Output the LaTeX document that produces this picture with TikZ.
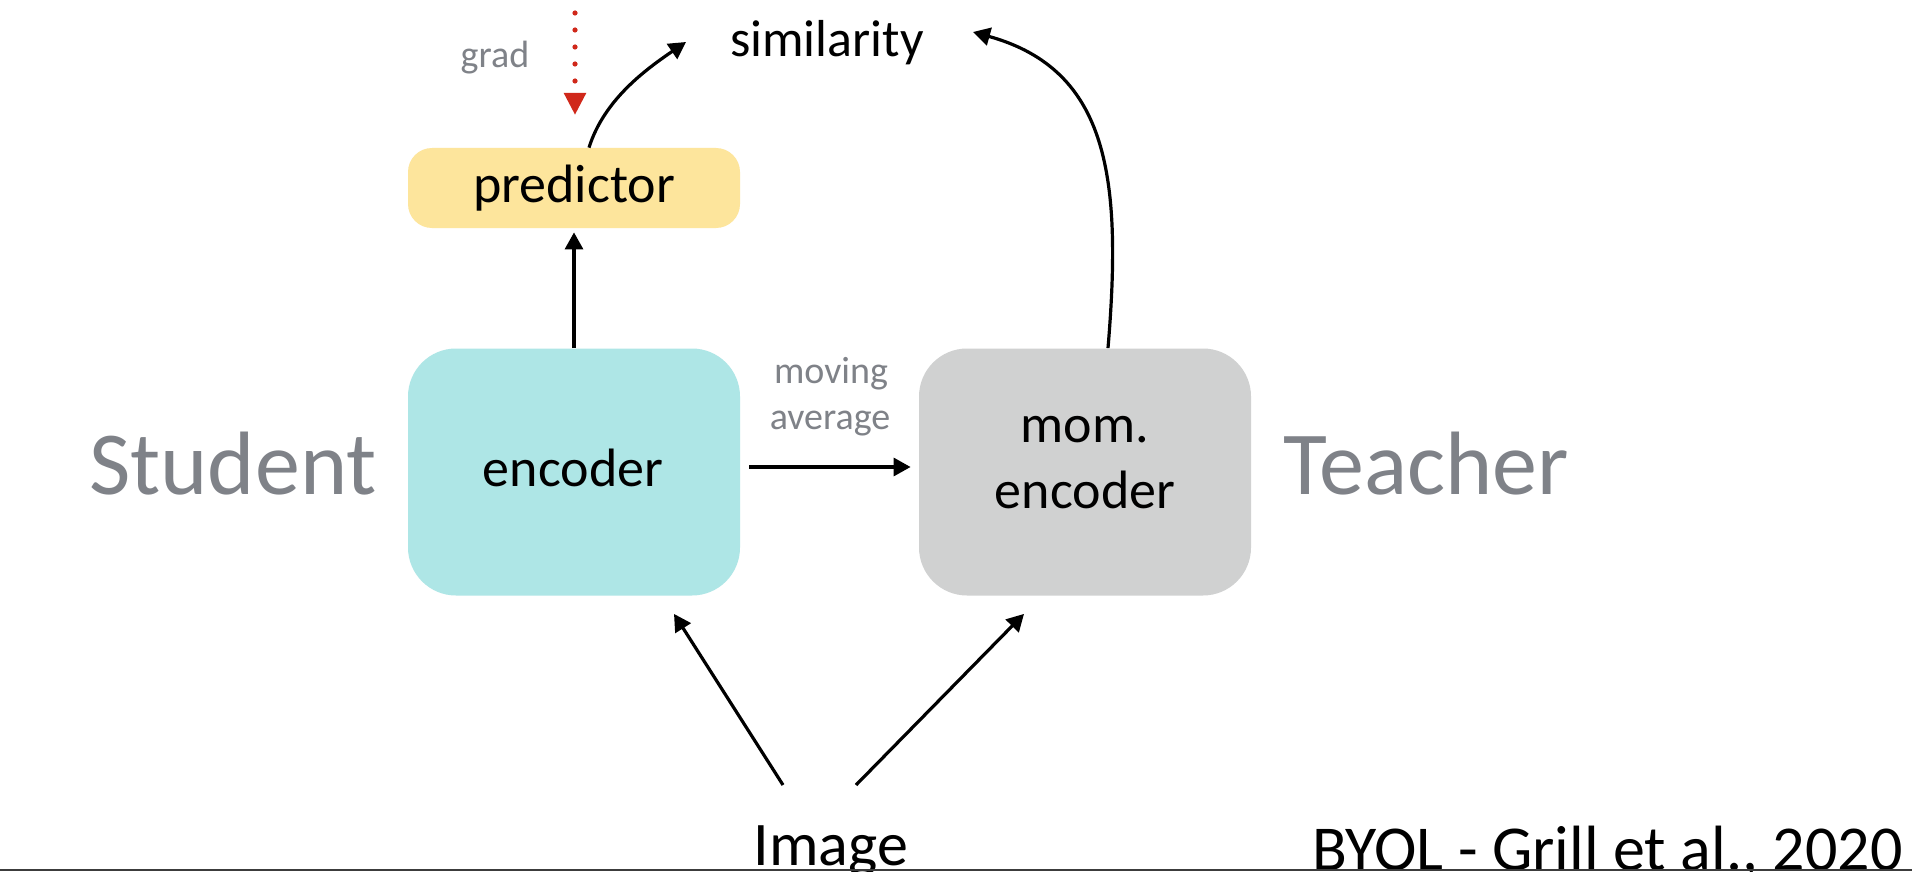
\documentclass[tikz,border=0pt]{standalone}
\usepackage{fontspec}
\setmainfont{Carlito}
\usetikzlibrary{arrows.meta,calc}
\definecolor{encC}{HTML}{AEE6E6}
\definecolor{predC}{HTML}{FDE59C}
\definecolor{momC}{HTML}{D0D1D1}
\definecolor{txtG}{HTML}{7F8288}
\definecolor{gradR}{HTML}{D0281A}
\definecolor{lineG}{HTML}{3C3C3C}
\begin{document}
\begin{tikzpicture}[x=0.5pt,y=-0.5pt,
  lbl/.style={inner sep=0pt, anchor=base},
  fs/.style={font=\fontsize{#1}{#1}\selectfont},
  boxnode/.style={draw=none, rounded corners=24pt, minimum width=166pt, minimum height=123.5pt, inner sep=0pt},
  arr/.style={line width=1.6pt, -{Triangle[length=8.5pt,width=9pt]}},
  gradarr/.style={gradR, line width=2.6pt, line cap=round, dash pattern=on 0pt off 8.5pt, -{Triangle[length=11pt,width=10.5pt]}},
]
\fill[white] (0,0) rectangle (1912,872);
\useasboundingbox (0,0) rectangle (1912,872);

% boxes
\node[boxnode, fill=encC] (enc) at (574,472) {};
\node[boxnode, fill=momC] (mom) at (1085,472) {};
\node[boxnode, fill=predC, rounded corners=12pt, minimum height=40pt] (pred) at (574,188) {};

% texts
\node[lbl, fs=27pt] (encT) at (573,486) {encoder};
\node[lbl, fs=27pt] (momT1) at (1085,442) {mom.};
\node[lbl, fs=27pt] (momT2) at (1085,508) {encoder};
\node[lbl, fs=27pt] (predT) at (574,202) {predictor};
\node[lbl, fs=26pt] (sim) at (827,57) {similarity};
\node[lbl, fs=19pt, text=txtG] (grad) at (495,68) {grad};
\node[lbl, fs=45pt, text=txtG] (stu) at (233,494) {Student};
\node[lbl, fs=45pt, text=txtG] (tea) at (1426,494) {Teacher};
\node[lbl, fs=19pt, text=txtG] (mov1) at (831,383) {moving};
\node[lbl, fs=19pt, text=txtG] (mov2) at (830,429) {average};
\node[lbl, fs=31pt] (img) at (831,865) {Image};
\node[inner sep=0pt, anchor=base east, fs=32pt] (byol) at (1903,870) {BYOL - Grill et al., 2020};

% free ends
\coordinate (gradTop) at (575,13);
\coordinate (gradTip) at (575,115);
\coordinate (simL) at (686,42);
\coordinate (simR) at (973,32);
\coordinate (imgL) at (783,785);
\coordinate (imgR) at (856,785);

% connectors
\draw[gradarr] (gradTop) -- (gradTip);
\draw[arr] (enc.north) -- ($(pred.south)+(0,4)$);
\draw[arr] ($(pred.north)+(15,0)$) .. controls (604,100) and (645,70) .. (simL);
\draw[arr] ($(mom.north)+(23,0)$) .. controls (1122,180) and (1110,70) .. (simR);
\draw[arr] ($(enc.east)+(9,-5)$) -- ($(mom.west)+(-8,-5)$);
\draw[arr] (imgL) -- ($(enc.south)+(100,18)$);
\draw[arr] (imgR) -- ($(mom.south)+(-61,18)$);

% bottom rule
\draw[lineG, line width=1pt] (0,870) -- (1912,870);
\end{tikzpicture}
\end{document}
